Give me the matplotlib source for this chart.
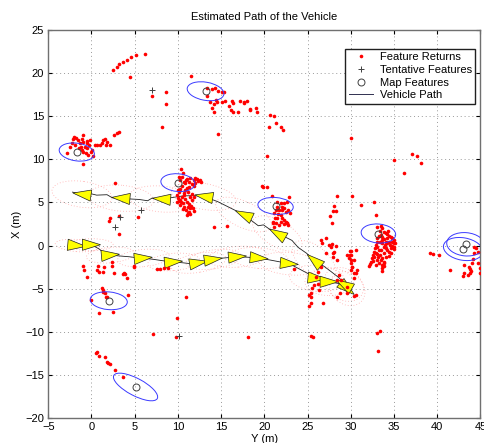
import numpy as np
import matplotlib.pyplot as plt
from matplotlib.patches import Ellipse, Polygon
from matplotlib.lines import Line2D

plt.rcParams['font.family'] = ['Liberation Sans', 'DejaVu Sans']

# feature returns (horizontal Y, vertical X), grouped by area
returns_north = [(2.5, 20.4), (3.0, 20.7), (3.2, 21.1), (3.6, 21.3), (4.1, 21.5), (4.6, 21.9),
                 (5.1, 22.1), (6.2, 22.2), (4.5, 19.5), (7.0, 17.3), (8.65, 17.8), (8.65, 16.4),
                 (8.15, 13.7), (14.6, 12.9)]
returns_top = [(11.5, 19.7), (13.4, 18.3), (13.95, 18.2), (14.3, 18.3), (14.65, 17.9), (15.1, 17.8),
               (15.3, 17.85), (13.4, 17.3), (13.7, 16.7), (14.15, 16.4), (14.4, 16.9), (14.5, 16.6),
               (13.9, 16.0), (14.15, 15.5), (15.1, 16.6), (15.5, 16.8), (15.9, 16.2), (16.3, 16.8),
               (16.4, 16.5), (16.1, 15.7), (16.35, 15.5), (17.0, 15.5), (17.2, 16.8), (17.6, 16.5),
               (18.3, 15.7), (17.6, 16.6), (18.0, 16.8), (18.4, 15.8), (19.0, 16.0), (19.1, 15.45),
               (20.7, 15.1), (21.1, 15.06), (20.5, 13.8), (21.3, 14.2), (21.95, 13.8), (22.15, 13.4),
               (20.3, 10.4)]
returns_left = [(-2.87, 10.69), (-2.48, 11.47), (-2.29, 11.85), (-2.17, 12.32), (-2.02, 12.55),
                (-1.78, 12.43), (-1.51, 12.24), (-1.32, 11.85), (-1.13, 12.32), (-1.01, 12.82),
                (-0.93, 12.05), (-0.74, 11.47), (-0.55, 11.85), (-0.47, 11.27), (-0.24, 11.66),
                (-0.16, 12.24), (0.03, 11.08), (-0.08, 10.89), (-0.35, 10.5), (-0.62, 10.77),
                (-0.93, 10.89), (-1.13, 11.08), (0.23, 10.38), (-0.93, 9.46), (0.42, 11.66),
                (0.61, 11.66), (1.0, 11.66), (1.19, 11.85), (1.39, 12.24), (1.58, 12.32),
                (1.77, 12.05), (1.7, 11.66), (2.16, 11.66), (2.55, 12.82), (3.01, 13.01),
                (3.13, 13.13), (-1.9, 11.66), (-1.4, 11.27), (-1.24, 11.47), (-0.47, 12.12)]
returns_mid = [(10.59, 8.37), (10.47, 7.99), (10.28, 7.6), (10.67, 7.41), (10.86, 7.21), (11.05, 7.68),
               (11.44, 7.79), (11.83, 7.6), (12.21, 7.68), (12.52, 7.6), (12.68, 7.41), (12.02, 7.29),
               (11.63, 7.14), (11.25, 6.83), (11.05, 6.63), (10.86, 6.44), (10.09, 6.25), (9.89, 5.86),
               (9.97, 5.47), (10.2, 5.28), (10.47, 5.67), (10.67, 6.05), (10.86, 5.36), (11.05, 5.09),
               (11.25, 4.82), (11.13, 4.51), (11.36, 4.31), (11.52, 4.58), (11.75, 4.31), (11.25, 3.93),
               (10.98, 4.12), (10.75, 4.43), (10.59, 4.89), (10.36, 5.09), (10.09, 5.2), (11.44, 5.67),
               (11.63, 5.28), (11.83, 5.67), (10.36, 8.84), (10.1, 7.9), (10.9, 7.6), (11.3, 7.4),
               (12.3, 7.5), (12.0, 7.8), (10.5, 6.9), (10.3, 6.6), (10.0, 6.4), (11.9, 6.9), (9.9, 5.1),
               (10.2, 4.7), (10.6, 4.2), (11.0, 3.6), (11.4, 3.7), (11.9, 4.0), (10.7, 5.9),
               (11.2, 6.2), (11.6, 6.0), (11.17, 3.73)]
returns_centre = [(19.68, 6.9), (19.87, 6.75), (20.26, 6.83), (20.91, 5.74), (21.49, 5.09), (21.88, 4.97),
                  (22.27, 4.97), (22.65, 5.09), (22.85, 5.59), (21.49, 4.51), (21.3, 4.12), (21.69, 4.12),
                  (22.07, 4.12), (22.46, 3.93), (22.73, 4.12), (22.96, 3.73), (21.11, 3.73), (21.18, 3.15),
                  (21.03, 2.77), (21.3, 2.57), (21.88, 3.54), (22.07, 3.15), (22.27, 2.96), (22.46, 2.77),
                  (22.65, 2.57), (22.73, 2.38), (21.88, 2.77), (21.69, 2.38), (21.42, 3.15), (21.57, 3.65),
                  (22.07, 4.51), (22.27, 4.31), (21.03, 2.57), (21.11, 2.19), (22.27, 2.5), (22.58, 2.65),
                  (14.2, 2.2), (15.7, 2.25)]
returns_turn = [(28.4, 5.8), (30.1, 5.8), (31.2, 4.65), (32.7, 5.0), (28.1, 4.55), (28.0, 4.04), (28.3, 4.04),
                (27.65, 3.45), (27.87, 2.65), (26.52, 0.64), (27.1, 0.83), (26.71, 0.33), (27.49, 0.06),
                (27.87, 0.18), (27.68, -0.13), (28.26, -0.06), (28.07, -0.71), (27.1, -0.91), (27.99, -0.91),
                (27.99, -1.29), (28.45, -1.68), (29.61, -1.1), (30.0, -0.64), (30.58, -0.52), (30.0, -1.1),
                (29.81, -1.49), (30.0, -1.68), (30.0, -2.07), (30.39, -1.68), (30.19, -2.45), (30.39, -3.23),
                (30.78, -2.84), (30.0, -2.84), (30.58, -3.23), (26.6, -2.45), (26.21, -3.03), (25.94, -3.61),
                (26.21, -4.46), (25.75, -4.58), (25.36, -5.55), (25.55, -4.97), (26.33, -5.16), (25.36, -5.94),
                (25.17, -5.74), (25.36, -6.71), (25.17, -7.02), (26.83, -6.63), (28.45, -5.94), (28.76, -5.47),
                (28.65, -3.42), (28.84, -4.0), (29.61, -4.77), (30.39, -5.86), (30.39, -3.81), (29.61, -5.55),
                (28.45, -4.0), (23.43, -2.76), (29.92, -0.6), (29.92, -1.1), (30.19, -2.53), (30.58, -5.74),
                (30.0, 12.43), (35.03, 9.92), (36.11, 8.37), (37.08, 10.61), (37.62, 10.34), (38.12, 9.57)]
returns_east = [(32.9, 3.54), (33.09, 2.19), (33.48, 2.26), (33.67, 1.99), (33.4, 1.72), (33.79, 1.61),
                (34.06, 1.49), (34.25, 1.34), (34.45, 1.1), (34.64, 1.03), (34.83, 0.83), (35.03, 0.64),
                (35.1, 0.25), (35.03, -0.13), (34.95, -0.44), (34.64, -0.33), (34.56, 0.06), (34.25, 0.25),
                (34.06, 0.45), (33.87, 0.72), (33.67, 1.03), (33.48, 1.22), (33.29, 1.1), (33.09, 0.83),
                (33.02, 0.45), (32.9, 0.06), (32.78, -0.33), (32.71, -0.71), (32.63, -1.1), (32.51, -1.49),
                (32.4, -1.87), (32.24, -2.14), (32.13, -2.38), (33.09, -0.13), (33.29, -0.52), (33.4, -1.1),
                (33.48, -1.68), (33.56, -2.26), (33.67, -2.65), (33.56, -2.92), (33.87, -0.91), (34.06, -1.29),
                (34.25, -0.52), (34.45, -0.71), (34.64, -0.83), (34.83, -0.13), (33.17, -1.29), (33.02, -1.68),
                (33.79, -0.13), (33.94, 0.06), (33.67, 0.25), (33.4, 0.45), (34.18, 0.83), (34.45, 0.45),
                (34.72, 0.45), (32.71, -1.29), (32.9, -0.91), (33.48, -0.52), (33.87, -2.0), (33.67, -1.49),
                (33.0, -1.0), (33.3, -2.0), (34.1, -0.3), (34.4, -1.2), (33.8, -1.9), (32.9, -2.3), (34.8, 0.0),
                (35.0, 0.3), (33.6, 0.6), (34.3, 1.7), (32.6, -1.8), (33.9, -2.4)]
returns_far_east = [(39.2, -0.83), (39.47, -1.02), (40.17, -1.1), (41.5, -2.84), (43.07, -3.23), (43.54, -3.42),
                    (43.84, -3.23), (43.73, -2.45), (44.0, -2.07), (44.11, -1.6), (44.31, -0.91), (44.69, -0.71),
                    (44.23, -0.21), (44.5, -0.33), (43.84, -2.76), (43.92, -2.92), (44.69, -1.99), (43.15, -2.26),
                    (42.95, -3.5), (44.96, -2.65), (44.9, -3.2)]
returns_south = [(-1.01, -2.34), (-0.86, -2.84), (-0.47, -3.61), (0.73, -2.38), (0.69, -2.84), (0.92, -3.03),
                 (1.47, -2.45), (1.39, -3.03), (2.35, -2.34), (2.35, -1.95), (2.63, -3.15), (3.78, -3.15),
                 (3.9, -3.34), (4.09, -3.73), (3.63, -3.3), (4.87, -2.38), (4.95, -2.53), (7.57, -2.72),
                 (7.96, -2.76), (8.35, -2.65), (8.85, -2.57), (1.19, -4.89), (1.39, -5.16), (1.31, -5.35),
                 (1.58, -5.47), (1.77, -5.94), (1.7, -6.01), (-0.08, -6.32), (0.85, -7.79), (2.47, -7.67),
                 (4.17, -5.74), (0.54, -12.51), (0.69, -12.35), (0.92, -12.78), (1.58, -12.89), (1.85, -13.47),
                 (1.97, -13.67), (2.16, -13.78), (2.74, -14.44), (3.63, -15.21), (2.74, 7.21), (2.16, 3.15),
                 (2.08, 2.88), (3.13, 3.42), (5.33, 3.27), (3.2, 1.33), (10.94, -6.01), (9.89, -8.45),
                 (9.78, -10.57), (7.15, -10.3), (18.09, -10.65), (25.44, -10.5), (25.67, -10.57),
                 (33.02, -10.19), (33.4, -9.88), (33.21, -12.24)]

# tentative features
tent_y = [7.0, 3.3, 5.7, 2.7, 10.1]
tent_x = [18.0, 3.35, 4.1, 2.1, -10.5]

# mapped features with their covariance ellipses
map_y = [-1.7, 13.2, 10.0, 21.3, 33.2, 43.3, 43.0, 2.0, 5.1]
map_x = [10.85, 17.9, 7.3, 4.6, 1.4, 0.15, -0.4, -6.4, -16.4]
map_w = [4.1, 4.3, 3.95, 4.1, 4.0, 4.4, 4.6, 4.3, 5.7]
map_h = [2.05, 2.1, 2.05, 1.95, 2.2, 2.7, 2.6, 2.05, 2.0]
map_ang = [-8, -10, -5, -5, -5, -5, -10, -5, -28]

# vehicle path
path_y = [-2.6, -1.8, -0.7, 0.0, 0.9, 1.5, 2.2, 3.2, 4.4, 5.2, 6.0, 7.2, 8.2, 9.5, 10.6, 11.5, 12.4,
          13.3, 14.1, 15.2, 16.9, 18.1, 19.4, 20.8, 22.9, 24.4, 26.1, 27.5, 28.6, 29.6, 29.9, 29.2,
          28.6, 27.7, 26.9, 25.75, 24.9, 23.9, 23.2, 22.4, 21.5, 20.6, 19.9, 19.3, 17.6, 16.2, 14.6,
          13.0, 11.8, 10.5, 9.2, 8.1, 7.0, 6.5, 5.5, 4.6, 3.4, 2.4, 1.8, 0.6, 0.0, -1.1, -2.2]
path_x = [0.0, 0.0, 0.05, 0.1, -0.4, -0.9, -1.1, -1.2, -1.3, -1.4, -1.45, -1.6, -1.75, -1.9, -2.0, -2.1,
          -2.0, -1.8, -1.6, -1.45, -1.3, -1.35, -1.45, -1.7, -2.1, -2.9, -3.8, -4.2, -4.4, -4.9, -4.6,
          -4.3, -3.7, -3.0, -2.4, -1.7, -0.9, -0.2, 0.6, 1.0, 1.4, 1.9, 2.4, 2.3, 3.6, 4.3, 5.1, 5.7,
          5.8, 5.75, 5.55, 5.4, 5.5, 5.2, 5.35, 5.4, 5.5, 5.55, 5.9, 5.85, 6.0, 5.95, 6.2]

# vehicle poses (position, heading in degrees) and pose uncertainty
pose_y = [-1.7, 0.0, 2.2, 6.0, 9.5, 12.4, 14.1, 16.9, 19.4, 22.9, 26.1, 27.5, 29.6, 29.2,
          25.75, 21.5, 17.6, 13.0, 8.1, 3.4, -1.1]
pose_x = [0.0, 0.1, -1.1, -1.45, -1.9, -2.0, -1.6, -1.3, -1.45, -2.1, -3.8, -4.2, -5.0, -4.5,
          -1.7, 1.4, 3.6, 5.7, 5.4, 5.5, 5.95]
pose_hdg = [-5, 0, 5, 5, 5, 10, 8, 5, -5, -5, -5, 0, -40, 150,
            140, 150, 155, 170, 175, 175, 172]
pose_sa = [2.5, 2.5, 2.8, 3.0, 3.0, 3.2, 3.2, 3.4, 3.4, 3.5, 3.2, 2.8, 2.2, 2.4,
           3.0, 3.2, 3.5, 3.8, 3.8, 3.8, 3.5]
pose_sb = [0.7, 0.7, 0.9, 1.0, 1.0, 1.1, 1.1, 1.2, 1.2, 1.3, 1.5, 1.6, 1.8, 1.8,
           1.6, 1.5, 1.5, 1.5, 1.5, 1.5, 1.5]

fig = plt.figure(figsize=(4.85, 4.43), dpi=100)
ax = fig.add_axes([0.0995, 0.0564, 0.891, 0.8758])

# pose uncertainty (faint dotted)
for py, px, h, a, b in zip(pose_y, pose_x, pose_hdg, pose_sa, pose_sb):
    ax.add_patch(Ellipse((py, px), 2 * a, 2 * b, angle=h, fill=False, ec='#ff8c8c',
                         lw=0.6, ls=(0, (1, 2.5)), alpha=0.7, zorder=1))

ax.plot(path_y, path_x, color='#202020', lw=0.6, zorder=2)

# vehicle triangles
tri_len, tri_wid = 2.1, 1.3
for py, px, h in zip(pose_y, pose_x, pose_hdg):
    u = np.array([np.cos(np.radians(h)), np.sin(np.radians(h))])
    n = np.array([-u[1], u[0]])
    c = np.array([py, px])
    pts = [c + u * tri_len / 2, c - u * tri_len / 2 + n * tri_wid / 2, c - u * tri_len / 2 - n * tri_wid / 2]
    ax.add_patch(Polygon(pts, closed=True, fc='#ffff00', ec='#202020', lw=0.5, zorder=3))

groups = [returns_north, returns_top, returns_left, returns_mid, returns_centre,
          returns_turn, returns_east, returns_far_east, returns_south]
for g in groups:
    g = np.array(g)
    ax.plot(g[:, 0], g[:, 1], 'o', color='#ff0000', ms=2.6, mec='none', zorder=4)

ax.plot(tent_y, tent_x, '+', color='#404040', ms=5, mew=0.7, zorder=5)

for my, mx, w, h, a in zip(map_y, map_x, map_w, map_h, map_ang):
    ax.add_patch(Ellipse((my, mx), w, h, angle=a, fill=False, ec='#3a3aff', lw=0.7, zorder=5))
ax.plot(map_y, map_x, 'o', mfc='none', mec='#404040', ms=5, mew=0.7, zorder=6)

ax.set_xlim(-5, 45)
ax.set_ylim(-20, 25)
ax.set_xticks(np.arange(-5, 46, 5))
ax.set_yticks(np.arange(-20, 26, 5))
ax.grid(True, color='#999999', ls=(0, (1, 3)), lw=0.7)
ax.tick_params(direction='in', top=True, right=True, length=3, labelsize=8, pad=3)
for s in ax.spines.values():
    s.set_color('#707070')
    s.set_linewidth(1.0)

ax.set_title('Estimated Path of the Vehicle', fontsize=8, pad=7)
ax.set_xlabel('Y (m)', fontsize=8, labelpad=1)
ax.set_ylabel('X (m)', fontsize=8, labelpad=2)

handles = [Line2D([], [], ls='none', marker='o', color='#ff0000', ms=2.6, mec='none'),
           Line2D([], [], ls='none', marker='+', color='#404040', ms=5, mew=0.7),
           Line2D([], [], ls='none', marker='o', mfc='none', mec='#404040', ms=5, mew=0.7),
           Line2D([], [], color='#303050', lw=0.7)]
ax.legend(handles, ['Feature Returns', 'Tentative Features', 'Map Features', 'Vehicle Path'],
          loc='upper right', bbox_to_anchor=(0.988, 0.952), fontsize=8, frameon=True,
          fancybox=False, edgecolor='#202020', framealpha=1, borderpad=0.3,
          handlelength=2.2, handletextpad=0.6, labelspacing=0.25, borderaxespad=0)

fig.savefig('out.png', dpi=100)
